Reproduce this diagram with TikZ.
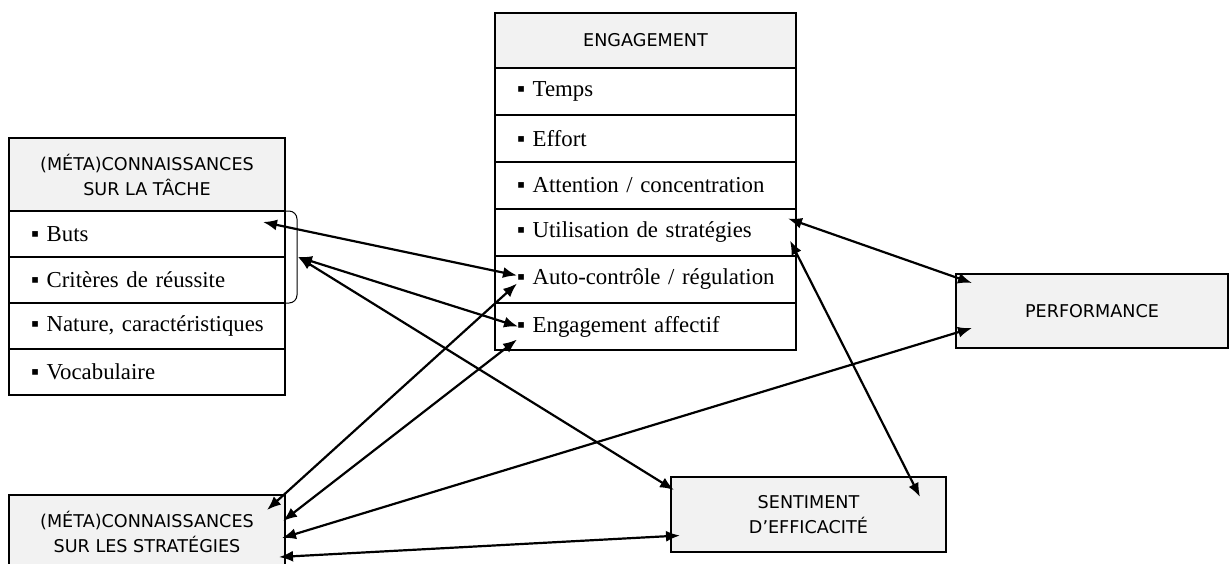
\documentclass[tikz,border=0pt]{standalone}
\usepackage{fontspec}
\setmainfont{Liberation Serif}
\newfontfamily\headfont{DejaVu Sans}
\usetikzlibrary{positioning,calc,arrows.meta}
\definecolor{headgray}{RGB}{242,242,242}

\begin{document}
\begin{tikzpicture}[
		x=0.5pt, y=-0.5pt,
		>={Latex[length=7pt,width=5.5pt]},
		box/.style={draw, line width=0.9pt, outer sep=0pt, inner sep=0pt},
		head/.style={box, fill=headgray, align=center, font=\headfont\fontsize{8.8}{12.5}\selectfont},
		item/.style={box, align=left, font=\fontsize{11.4}{14}\selectfont, execute at begin node={\hspace*{11pt}}},
		tacheitem/.style={item, text width=138pt, minimum height=23pt},
		engitem/.style={item, text width=150.5pt, minimum height=23.5pt},
		link/.style={<->, line width=1.1pt},
	]
	\path[use as bounding box] (0,0) rectangle (1229,563);
	\node[head, minimum width=138pt, minimum height=36.5pt, anchor=north west] (tache) at (9,138) {(MÉTA)CONNAISSANCES\\SUR LA TÂCHE};
	\node[tacheitem, below=0pt of tache] (buts) {▪ Buts};
	\node[tacheitem, below=0pt of buts] (criteres) {▪ Critères de réussite};
	\node[tacheitem, below=0pt of criteres] (nature) {▪ Nature, caractéristiques};
	\node[tacheitem, below=0pt of nature] (vocab) {▪ Vocabulaire};
	\node[head, minimum width=150.5pt, minimum height=27.5pt, anchor=north west] (engagement) at (495,13) {ENGAGEMENT};
	\node[engitem, below=0pt of engagement] (temps) {▪ Temps};
	\node[engitem, below=0pt of temps] (effort) {▪ Effort};
	\node[engitem, below=0pt of effort] (attention) {▪ Attention / concentration};
	\node[engitem, below=0pt of attention] (utilisation) {▪ Utilisation de stratégies};
	\node[engitem, below=0pt of utilisation] (autocontrole) {▪ Auto-contrôle / régulation};
	\node[engitem, below=0pt of autocontrole] (affectif) {▪ Engagement affectif};
	\node[head, minimum width=136pt, minimum height=37pt, anchor=north west] (performance) at (956,274) {PERFORMANCE};
	\node[head, minimum width=137.5pt, minimum height=37.5pt, anchor=north west] (sentiment) at (671,477) {SENTIMENT\\D’EFFICACITÉ};
	\node[head, minimum width=138pt, minimum height=36.5pt, anchor=north west] (strategies) at (9,495) {(MÉTA)CONNAISSANCES\\SUR LES STRATÉGIES};
	\draw[line width=0.5pt, rounded corners=4pt] (buts.north east) -- ++(12,0) |- (criteres.south east);
	\coordinate (groupe) at ($(buts.north east)!0.5!(criteres.south east)+(13,0)$);
	\draw[link] ([shift={(-22,-12)}]buts.east) -- ([shift={(22,-4)}]autocontrole.west);
	\draw[link] (groupe) -- ([shift={(23,0)}]affectif.west);
	\draw[link] (groupe) -- ([shift={(3,13)}]sentiment.north west);
	\draw[link] ([shift={(-18,15)}]strategies.north east) -- ([shift={(22,4)}]autocontrole.west);
	\draw[link] ([shift={(-2,26)}]strategies.north east) -- ([shift={(22,13)}]affectif.west);
	\draw[link] ([shift={(-3,43)}]strategies.north east) -- ([shift={(16,17)}]performance.west);
	\draw[link] ([shift={(-6,62)}]strategies.north east) -- ([shift={(9,21)}]sentiment.west);
	\draw[link] ([shift={(-8,-14)}]utilisation.east) -- ([shift={(16,-28)}]performance.west);
	\draw[link] ([shift={(-6,8)}]utilisation.east) -- ([shift={(-26,20)}]sentiment.north east);
\end{tikzpicture}
\end{document}
